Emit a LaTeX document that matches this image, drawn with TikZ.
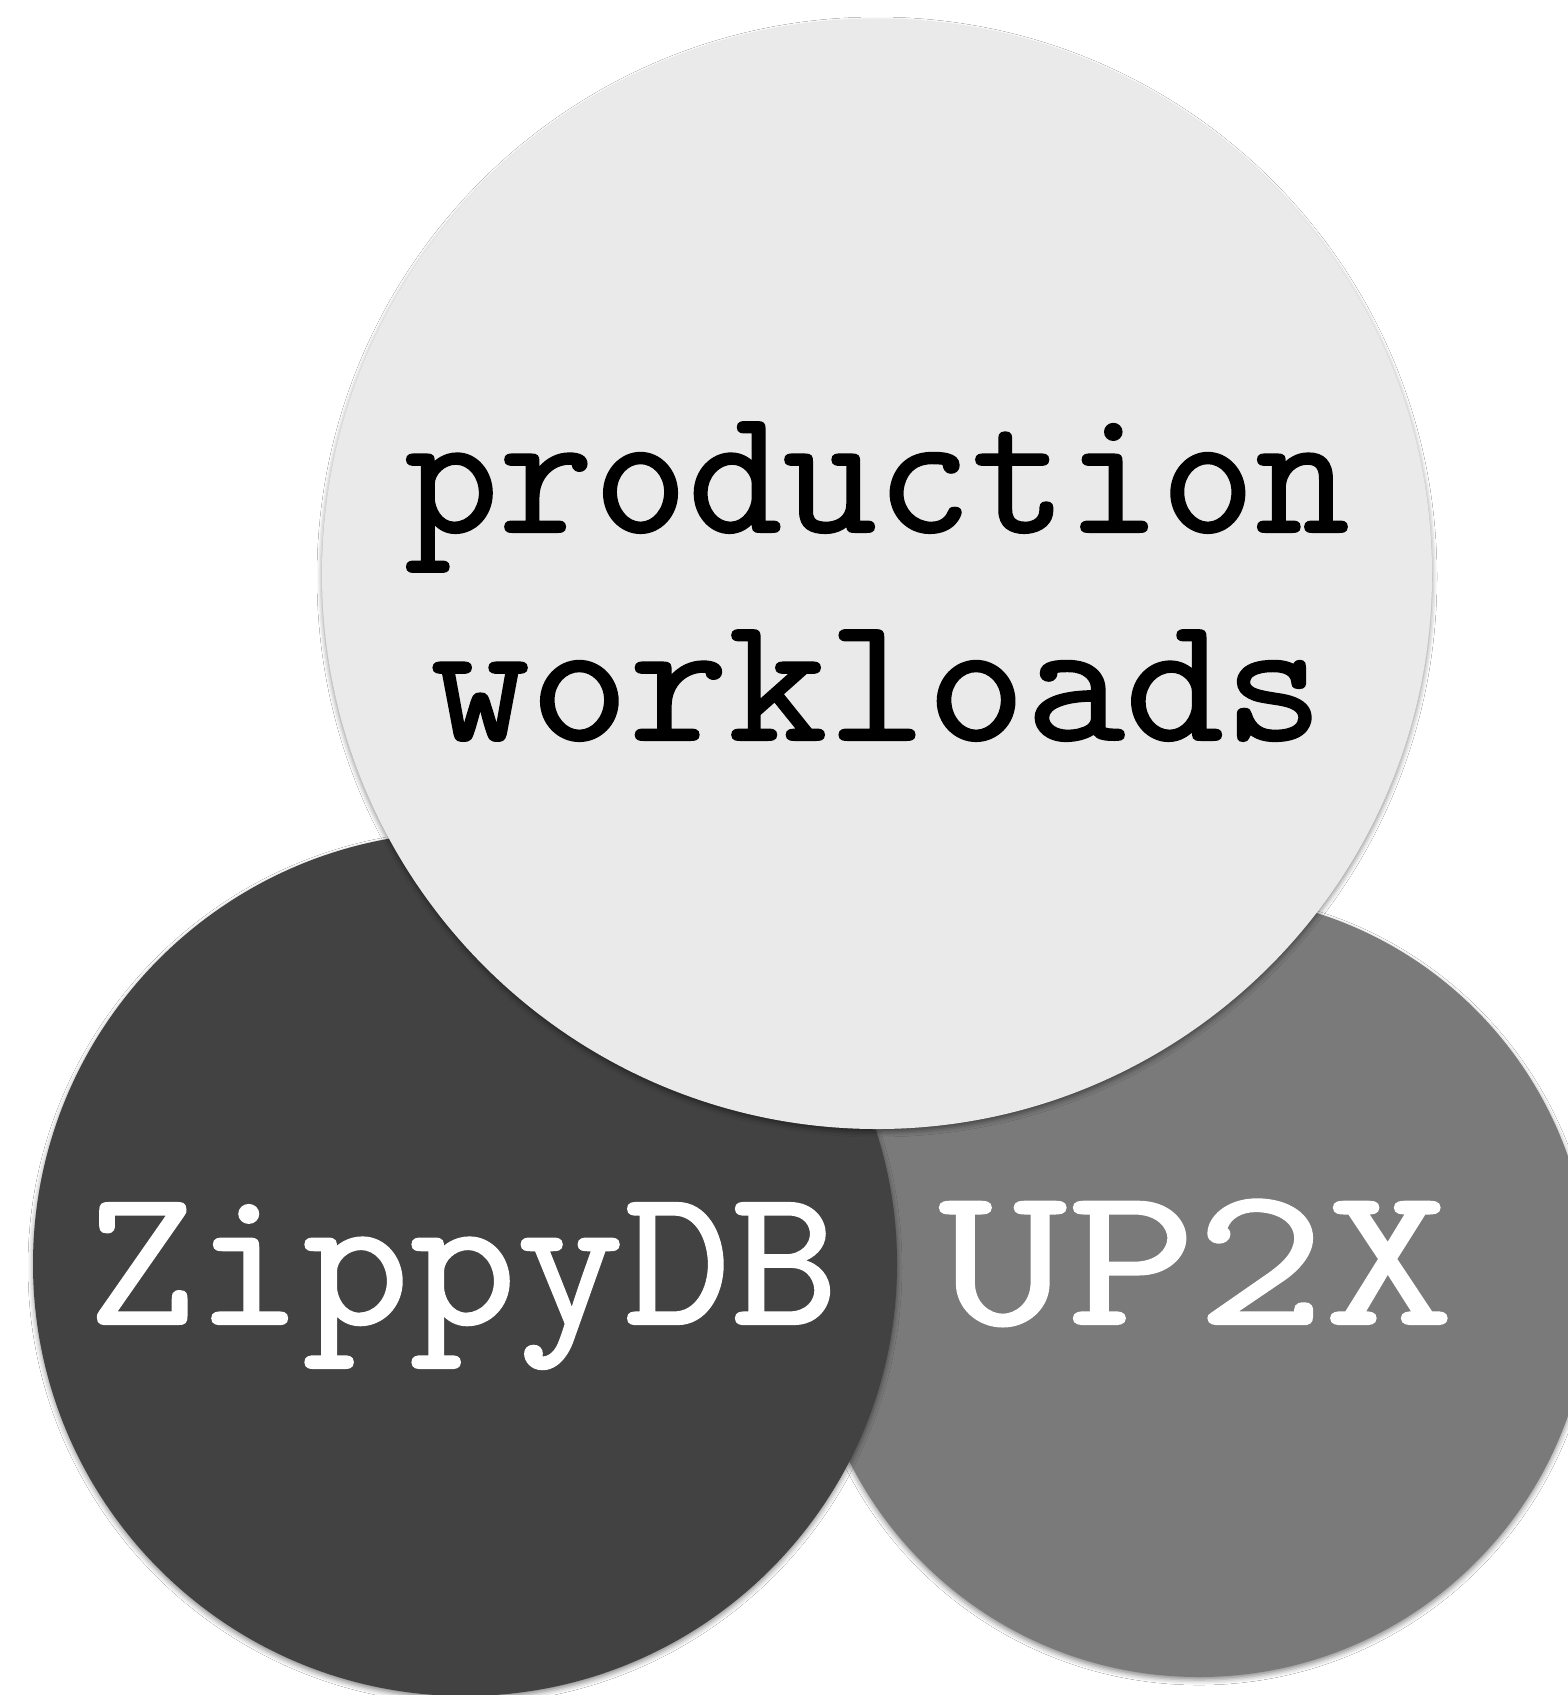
\documentclass[tikz,border=0pt]{standalone}
\usepackage{fontspec}
\newfontfamily\twfont{Latin Modern Mono}[FakeBold=1.1]
\usetikzlibrary{shadows.blur}
\definecolor{lightc}{HTML}{EAEAEA}
\definecolor{darkc}{HTML}{424242}
\definecolor{midc}{HTML}{7A7A7A}
\tikzset{
  disc/.style={circle, inner sep=0pt, draw=none,
    blur shadow={shadow xshift=0pt, shadow yshift=-3pt, shadow blur radius=5pt, shadow opacity=45}},
  lbl/.style={inner sep=0pt, anchor=base}
}
\begin{document}
\begin{tikzpicture}[x=1pt,y=-1pt]
\useasboundingbox (0,0) rectangle (1568,1695);
\fill[white] (0,0) rectangle (1568,1695);
\begin{scope}
\clip (0,0) rectangle (1568,1695);
\node[disc, fill=midc, minimum size=782pt] (up) at (1199,1286) {};
\node[disc, fill=darkc, minimum size=864pt] (zip) at (465,1264) {};
\node[disc, fill=lightc, minimum size=1110pt] (prod) at (877,574) {};
\end{scope}
\node[lbl, text=black, font=\twfont\fontsize{180}{208}\selectfont] (t1) at (877,532) {\scalebox{1.02}[1]{production}};
\node[lbl, text=black, font=\twfont\fontsize{180}{208}\selectfont] (t2) at (877,740) {\scalebox{1.07}[1]{workloads}};
\node[lbl, text=white, font=\twfont\fontsize{198}{230}\selectfont] (t3) at (463,1324) {\scalebox{1.05}[1]{ZippyDB}};
\node[lbl, text=white, font=\twfont\fontsize{200}{230}\selectfont] (t4) at (1196,1324) {\scalebox{1.25}[1]{UP2X}};
\end{tikzpicture}
\end{document}
